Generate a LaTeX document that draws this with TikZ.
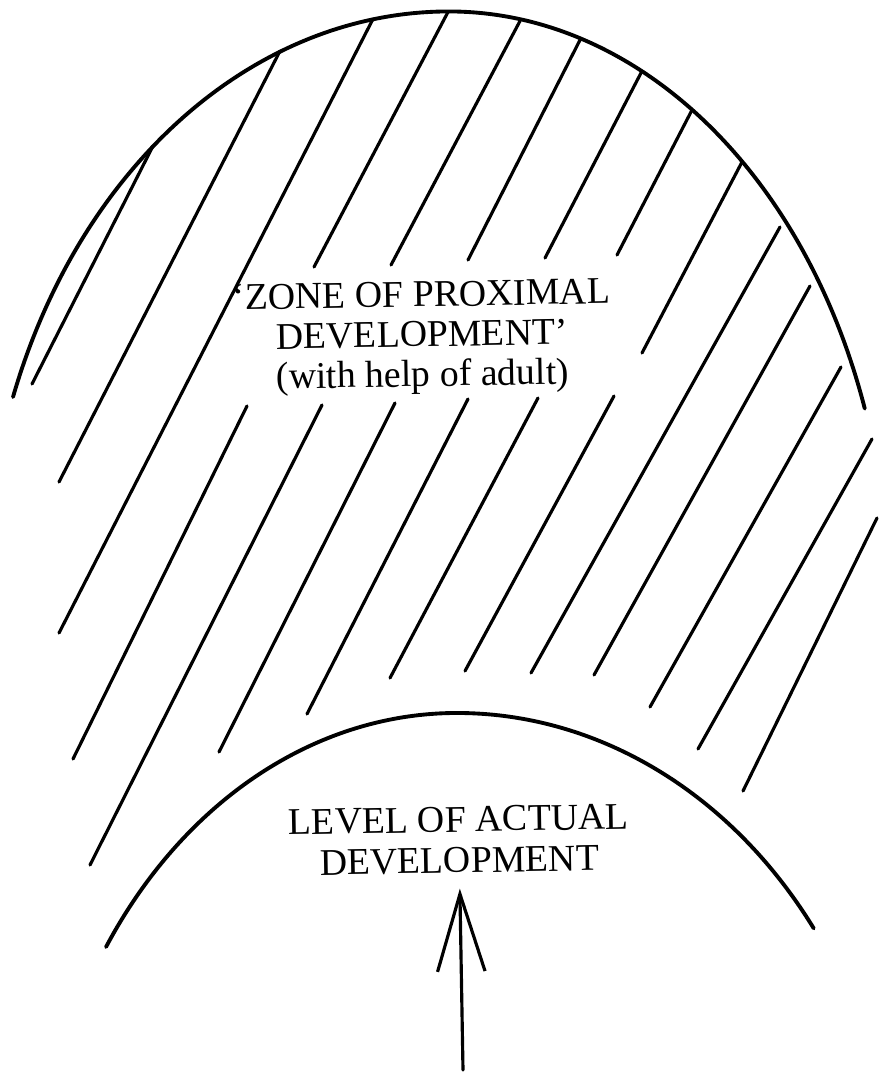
\documentclass[tikz,border=0pt]{standalone}
\usepackage{fontspec}
\setmainfont{Liberation Serif}
\usetikzlibrary{arrows.meta}

\begin{document}
\begin{tikzpicture}[
    x=0.02cm, y=-0.02cm,
    every node/.style={font=\fontsize{21.5}{23.3}\selectfont, align=center, inner sep=0pt},
    curve/.style={line width=2.2pt, line cap=round},
    hatch/.style={line width=1.8pt, line cap=round},
    pointer/.style={line width=1.8pt, line cap=round, -{Straight Barb[length=1.55cm, width=0.95cm]}}
]
\useasboundingbox (0,0) rectangle (879,1072);

%% Outer arc (upper limit of the zone)
\draw[curve] (13,397) arc[start angle=159.8, end angle=90, x radius=9.29cm, y radius=11.78cm]
                      arc[start angle=90, end angle=19, x radius=8.8cm, y radius=11.78cm];

%% Inner arc (actual level)
\draw[curve] (106,947) arc[start angle=146.7, end angle=90, x radius=8.4cm, y radius=10.38cm]
                       arc[start angle=90, end angle=35.8, x radius=8.8cm, y radius=10.38cm];

%% Hatching of the zone
\draw[hatch] (153,146) -- (32,384)
             (280,51) -- (59,482)
             (373,19) -- (59,633)
             (448,12) -- (314,267)  (247,406) -- (73,759)
             (520,21) -- (391,265)  (322,405) -- (90,865)
             (580,40) -- (468,260)  (395,403) -- (219,752)
             (642,71) -- (545,258)  (468,399) -- (307,714)
             (692,110) -- (617,255) (538,398) -- (390,678)
             (742,162) -- (642,353) (614,396) -- (465,671)
             (780,227) -- (531,673)
             (810,286) -- (594,675)
             (841,367) -- (650,707)
             (872,439) -- (698,749)
             (877,518) -- (743,791);

%% Labels
\node[rotate=1, font=\fontsize{21.5}{22.7}\selectfont] (zpd) at (422,338) {`ZONE OF PROXIMAL\\ DEVELOPMENT'\\ (with help of adult)};
\node[rotate=1] (lad) at (459,840) {LEVEL OF ACTUAL\\ DEVELOPMENT};

%% Arrow
\coordinate (base) at (463,1070);
\draw[pointer, shorten >=0.3cm] (base) -- (lad.south);
\end{tikzpicture}
\end{document}
